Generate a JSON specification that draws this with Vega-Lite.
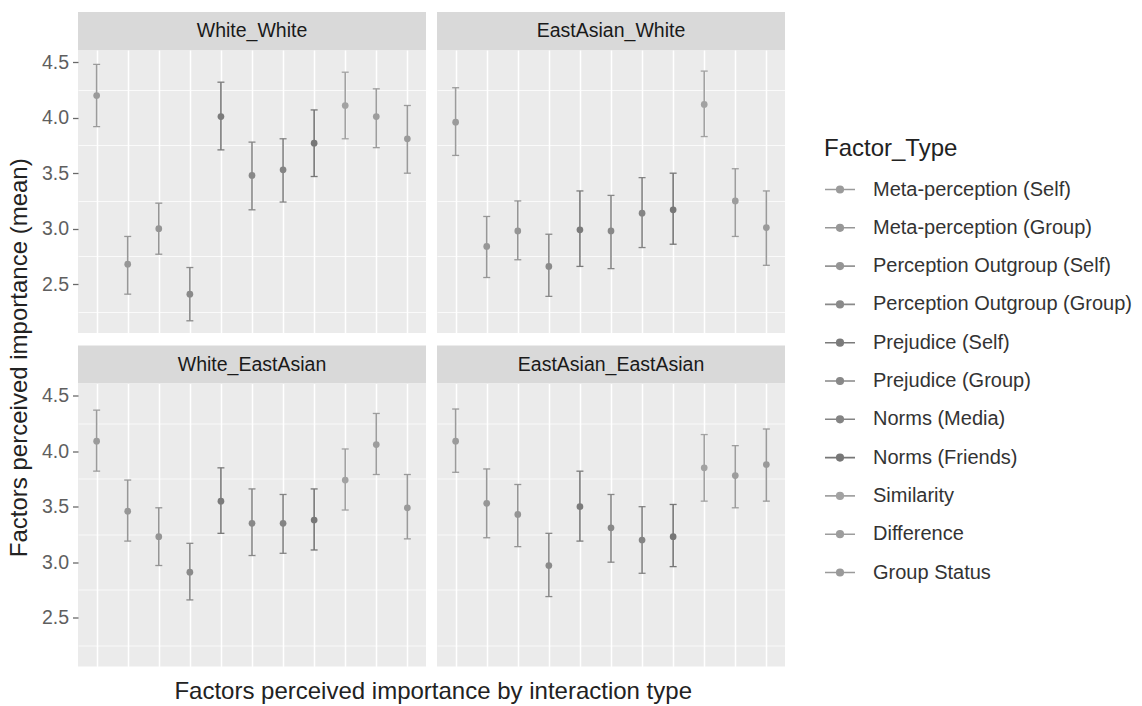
{
  "$schema": "https://vega.github.io/schema/vega-lite/v6.json",
  "padding": {"left": 8, "top": 12, "right": 5, "bottom": 5},
  "background": "white",
  "datasets": {
    "strips": [{"panel": "White_White"}, {"panel": "EastAsian_White"}, {"panel": "White_EastAsian"}, {"panel": "EastAsian_EastAsian"}],
    "means": [
      {"panel": "White_White", "factor": "Meta-perception (Self)", "mean": 4.20, "lo": 3.92, "hi": 4.48},
      {"panel": "White_White", "factor": "Meta-perception (Group)", "mean": 2.68, "lo": 2.41, "hi": 2.93},
      {"panel": "White_White", "factor": "Perception Outgroup (Self)", "mean": 3.00, "lo": 2.77, "hi": 3.23},
      {"panel": "White_White", "factor": "Perception Outgroup (Group)", "mean": 2.41, "lo": 2.17, "hi": 2.65},
      {"panel": "White_White", "factor": "Prejudice (Self)", "mean": 4.01, "lo": 3.71, "hi": 4.32},
      {"panel": "White_White", "factor": "Prejudice (Group)", "mean": 3.48, "lo": 3.17, "hi": 3.78},
      {"panel": "White_White", "factor": "Norms (Media)", "mean": 3.53, "lo": 3.24, "hi": 3.81},
      {"panel": "White_White", "factor": "Norms (Friends)", "mean": 3.77, "lo": 3.47, "hi": 4.07},
      {"panel": "White_White", "factor": "Similarity", "mean": 4.11, "lo": 3.81, "hi": 4.41},
      {"panel": "White_White", "factor": "Difference", "mean": 4.01, "lo": 3.73, "hi": 4.26},
      {"panel": "White_White", "factor": "Group Status", "mean": 3.81, "lo": 3.50, "hi": 4.11},
      {"panel": "EastAsian_White", "factor": "Meta-perception (Self)", "mean": 3.96, "lo": 3.66, "hi": 4.27},
      {"panel": "EastAsian_White", "factor": "Meta-perception (Group)", "mean": 2.84, "lo": 2.56, "hi": 3.11},
      {"panel": "EastAsian_White", "factor": "Perception Outgroup (Self)", "mean": 2.98, "lo": 2.72, "hi": 3.25},
      {"panel": "EastAsian_White", "factor": "Perception Outgroup (Group)", "mean": 2.66, "lo": 2.39, "hi": 2.95},
      {"panel": "EastAsian_White", "factor": "Prejudice (Self)", "mean": 2.99, "lo": 2.66, "hi": 3.34},
      {"panel": "EastAsian_White", "factor": "Prejudice (Group)", "mean": 2.98, "lo": 2.64, "hi": 3.30},
      {"panel": "EastAsian_White", "factor": "Norms (Media)", "mean": 3.14, "lo": 2.83, "hi": 3.46},
      {"panel": "EastAsian_White", "factor": "Norms (Friends)", "mean": 3.17, "lo": 2.86, "hi": 3.50},
      {"panel": "EastAsian_White", "factor": "Similarity", "mean": 4.12, "lo": 3.83, "hi": 4.42},
      {"panel": "EastAsian_White", "factor": "Difference", "mean": 3.25, "lo": 2.93, "hi": 3.54},
      {"panel": "EastAsian_White", "factor": "Group Status", "mean": 3.01, "lo": 2.67, "hi": 3.34},
      {"panel": "White_EastAsian", "factor": "Meta-perception (Self)", "mean": 4.09, "lo": 3.82, "hi": 4.37},
      {"panel": "White_EastAsian", "factor": "Meta-perception (Group)", "mean": 3.46, "lo": 3.19, "hi": 3.74},
      {"panel": "White_EastAsian", "factor": "Perception Outgroup (Self)", "mean": 3.23, "lo": 2.97, "hi": 3.49},
      {"panel": "White_EastAsian", "factor": "Perception Outgroup (Group)", "mean": 2.91, "lo": 2.66, "hi": 3.17},
      {"panel": "White_EastAsian", "factor": "Prejudice (Self)", "mean": 3.55, "lo": 3.26, "hi": 3.85},
      {"panel": "White_EastAsian", "factor": "Prejudice (Group)", "mean": 3.35, "lo": 3.06, "hi": 3.66},
      {"panel": "White_EastAsian", "factor": "Norms (Media)", "mean": 3.35, "lo": 3.08, "hi": 3.61},
      {"panel": "White_EastAsian", "factor": "Norms (Friends)", "mean": 3.38, "lo": 3.11, "hi": 3.66},
      {"panel": "White_EastAsian", "factor": "Similarity", "mean": 3.74, "lo": 3.47, "hi": 4.02},
      {"panel": "White_EastAsian", "factor": "Difference", "mean": 4.06, "lo": 3.79, "hi": 4.34},
      {"panel": "White_EastAsian", "factor": "Group Status", "mean": 3.49, "lo": 3.21, "hi": 3.79},
      {"panel": "EastAsian_EastAsian", "factor": "Meta-perception (Self)", "mean": 4.09, "lo": 3.81, "hi": 4.38},
      {"panel": "EastAsian_EastAsian", "factor": "Meta-perception (Group)", "mean": 3.53, "lo": 3.22, "hi": 3.84},
      {"panel": "EastAsian_EastAsian", "factor": "Perception Outgroup (Self)", "mean": 3.43, "lo": 3.14, "hi": 3.70},
      {"panel": "EastAsian_EastAsian", "factor": "Perception Outgroup (Group)", "mean": 2.97, "lo": 2.69, "hi": 3.26},
      {"panel": "EastAsian_EastAsian", "factor": "Prejudice (Self)", "mean": 3.50, "lo": 3.19, "hi": 3.82},
      {"panel": "EastAsian_EastAsian", "factor": "Prejudice (Group)", "mean": 3.31, "lo": 3.00, "hi": 3.61},
      {"panel": "EastAsian_EastAsian", "factor": "Norms (Media)", "mean": 3.20, "lo": 2.90, "hi": 3.50},
      {"panel": "EastAsian_EastAsian", "factor": "Norms (Friends)", "mean": 3.23, "lo": 2.96, "hi": 3.52},
      {"panel": "EastAsian_EastAsian", "factor": "Similarity", "mean": 3.85, "lo": 3.55, "hi": 4.15},
      {"panel": "EastAsian_EastAsian", "factor": "Difference", "mean": 3.78, "lo": 3.49, "hi": 4.05},
      {"panel": "EastAsian_EastAsian", "factor": "Group Status", "mean": 3.88, "lo": 3.55, "hi": 4.20}
    ]
  },
  "config": {
    "font": "Liberation Sans",
    "view": {"fill": "#ebebeb", "stroke": null},
    "title": {"font": "Liberation Sans", "fontSize": 24, "fontWeight": "normal", "color": "#222222"},
    "axis": {"labelFont": "Liberation Sans", "titleFont": "Liberation Sans", "gridColor": "#ffffff", "gridOpacity": 1},
    "axisX": {"labels": false, "ticks": false, "domain": false, "grid": true, "gridWidth": 1.5, "title": null},
    "axisY": {"domain": false, "tickColor": "#6a6a6a", "tickSize": 5.5, "tickWidth": 1.3, "labelFontSize": 19.5, "labelColor": "#5f5f5f", "labelPadding": 4, "labelOverlap": false, "labelFlush": false, "title": null},
    "legend": {"titleFont": "Liberation Sans", "labelFont": "Liberation Sans", "titleFontSize": 24, "titleFontWeight": "normal", "titleColor": "#222222", "labelFontSize": 20, "labelColor": "#333333", "symbolSize": 900, "symbolStrokeWidth": 1.6, "rowPadding": 12.3, "labelOffset": 17, "titlePadding": 12.5, "labelLimit": 400}
  },
  "title": {"text": "Factors perceived importance (mean)", "orient": "left", "anchor": "middle", "offset": 26, "dy": 17},
  "spacing": 12.5,
  "vconcat": [
    {
      "spacing": 11,
      "hconcat": [
        {
          "spacing": 0,
          "vconcat": [
            {"width": 348, "height": 38, "view": {"fill": "#d9d9d9", "stroke": null}, "data": {"name": "strips"}, "transform": [{"filter": "datum.panel === 'White_White'"}], "mark": {"type": "text", "fontSize": 19.5, "color": "#1a1a1a"}, "encoding": {"text": {"field": "panel", "type": "nominal"}}},
            {
              "width": 348, "height": 283,
              "data": {"name": "means"},
              "transform": [{"filter": "datum.panel === 'White_White'"}],
              "encoding": {
                "x": {"field": "factor", "type": "nominal", "scale": {"type": "point", "padding": 0.6, "domain": ["Meta-perception (Self)", "Meta-perception (Group)", "Perception Outgroup (Self)", "Perception Outgroup (Group)", "Prejudice (Self)", "Prejudice (Group)", "Norms (Media)", "Norms (Friends)", "Similarity", "Difference", "Group Status"]}, "axis": {"title": null}},
                "color": {"field": "factor", "type": "nominal", "scale": {"domain": ["Meta-perception (Self)", "Meta-perception (Group)", "Perception Outgroup (Self)", "Perception Outgroup (Group)", "Prejudice (Self)", "Prejudice (Group)", "Norms (Media)", "Norms (Friends)", "Similarity", "Difference", "Group Status"], "range": ["#9b9b9b", "#979797", "#959595", "#8a8a8a", "#7b7b7b", "#888888", "#848484", "#777777", "#a2a2a2", "#9d9d9d", "#9a9a9a"]}, "legend": {"title": "Factor_Type", "orient": "none", "legendX": 746, "legendY": 125, "symbolType": "M-1,0H1M-0.22,0A0.22,0.22,0,1,1,0.22,0A0.22,0.22,0,1,1,-0.22,0Z", "encode": {"symbols": {"update": {"fill": {"scale": "color", "field": "value"}, "stroke": {"scale": "color", "field": "value"}, "opacity": {"value": 1}}}}}}
              },
              "resolve": {"axis": {"y": "independent"}},
              "layer": [
                {"mark": {"type": "point", "opacity": 0}, "encoding": {"y": {"field": "mean", "type": "quantitative", "scale": {"domain": [2.06, 4.61], "nice": false, "zero": false}, "axis": {"orient": "left", "title": null, "values": [2.25, 2.75, 3.25, 3.75, 4.25], "labels": false, "ticks": false, "gridWidth": 0.75}}}},
                {"mark": {"type": "rule", "strokeWidth": 1.6}, "encoding": {"y": {"field": "lo", "type": "quantitative", "axis": {"orient": "left", "title": null, "values": [2.5, 3, 3.5, 4, 4.5], "format": ".1f", "gridWidth": 1.5}}, "y2": {"field": "hi"}}},
                {"mark": {"type": "tick", "size": 7, "thickness": 1.3, "opacity": 1}, "encoding": {"y": {"field": "lo", "type": "quantitative", "axis": null}}},
                {"mark": {"type": "tick", "size": 7, "thickness": 1.3, "opacity": 1}, "encoding": {"y": {"field": "hi", "type": "quantitative", "axis": null}}},
                {"mark": {"type": "point", "filled": true, "size": 45, "opacity": 1}, "encoding": {"y": {"field": "mean", "type": "quantitative", "axis": null}}}
              ]
            }
          ]
        },
        {
          "spacing": 0,
          "vconcat": [
            {"width": 348, "height": 38, "view": {"fill": "#d9d9d9", "stroke": null}, "data": {"name": "strips"}, "transform": [{"filter": "datum.panel === 'EastAsian_White'"}], "mark": {"type": "text", "fontSize": 19.5, "color": "#1a1a1a"}, "encoding": {"text": {"field": "panel", "type": "nominal"}}},
            {
              "width": 348, "height": 283,
              "data": {"name": "means"},
              "transform": [{"filter": "datum.panel === 'EastAsian_White'"}],
              "encoding": {
                "x": {"field": "factor", "type": "nominal", "scale": {"type": "point", "padding": 0.6, "domain": ["Meta-perception (Self)", "Meta-perception (Group)", "Perception Outgroup (Self)", "Perception Outgroup (Group)", "Prejudice (Self)", "Prejudice (Group)", "Norms (Media)", "Norms (Friends)", "Similarity", "Difference", "Group Status"]}, "axis": {"title": null}},
                "color": {"field": "factor", "type": "nominal", "scale": {"domain": ["Meta-perception (Self)", "Meta-perception (Group)", "Perception Outgroup (Self)", "Perception Outgroup (Group)", "Prejudice (Self)", "Prejudice (Group)", "Norms (Media)", "Norms (Friends)", "Similarity", "Difference", "Group Status"], "range": ["#9b9b9b", "#979797", "#959595", "#8a8a8a", "#7b7b7b", "#888888", "#848484", "#777777", "#a2a2a2", "#9d9d9d", "#9a9a9a"]}, "legend": {"title": "Factor_Type", "orient": "none", "legendX": 746, "legendY": 125, "symbolType": "M-1,0H1M-0.22,0A0.22,0.22,0,1,1,0.22,0A0.22,0.22,0,1,1,-0.22,0Z", "encode": {"symbols": {"update": {"fill": {"scale": "color", "field": "value"}, "stroke": {"scale": "color", "field": "value"}, "opacity": {"value": 1}}}}}}
              },
              "resolve": {"axis": {"y": "independent"}},
              "layer": [
                {"mark": {"type": "point", "opacity": 0}, "encoding": {"y": {"field": "mean", "type": "quantitative", "scale": {"domain": [2.06, 4.61], "nice": false, "zero": false}, "axis": {"orient": "left", "title": null, "values": [2.25, 2.75, 3.25, 3.75, 4.25], "labels": false, "ticks": false, "gridWidth": 0.75}}}},
                {"mark": {"type": "rule", "strokeWidth": 1.6}, "encoding": {"y": {"field": "lo", "type": "quantitative", "axis": {"orient": "left", "title": null, "values": [2.5, 3, 3.5, 4, 4.5], "labels": false, "ticks": false, "gridWidth": 1.5}}, "y2": {"field": "hi"}}},
                {"mark": {"type": "tick", "size": 7, "thickness": 1.3, "opacity": 1}, "encoding": {"y": {"field": "lo", "type": "quantitative", "axis": null}}},
                {"mark": {"type": "tick", "size": 7, "thickness": 1.3, "opacity": 1}, "encoding": {"y": {"field": "hi", "type": "quantitative", "axis": null}}},
                {"mark": {"type": "point", "filled": true, "size": 45, "opacity": 1}, "encoding": {"y": {"field": "mean", "type": "quantitative", "axis": null}}}
              ]
            }
          ]
        }
      ]
    },
    {
      "spacing": 11,
      "title": {"text": "Factors perceived importance by interaction type", "orient": "bottom", "anchor": "middle", "offset": 13, "dx": 20},
      "hconcat": [
        {
          "spacing": 0,
          "vconcat": [
            {"width": 348, "height": 38, "view": {"fill": "#d9d9d9", "stroke": null}, "data": {"name": "strips"}, "transform": [{"filter": "datum.panel === 'White_EastAsian'"}], "mark": {"type": "text", "fontSize": 19.5, "color": "#1a1a1a"}, "encoding": {"text": {"field": "panel", "type": "nominal"}}},
            {
              "width": 348, "height": 283,
              "data": {"name": "means"},
              "transform": [{"filter": "datum.panel === 'White_EastAsian'"}],
              "encoding": {
                "x": {"field": "factor", "type": "nominal", "scale": {"type": "point", "padding": 0.6, "domain": ["Meta-perception (Self)", "Meta-perception (Group)", "Perception Outgroup (Self)", "Perception Outgroup (Group)", "Prejudice (Self)", "Prejudice (Group)", "Norms (Media)", "Norms (Friends)", "Similarity", "Difference", "Group Status"]}, "axis": {"title": null}},
                "color": {"field": "factor", "type": "nominal", "scale": {"domain": ["Meta-perception (Self)", "Meta-perception (Group)", "Perception Outgroup (Self)", "Perception Outgroup (Group)", "Prejudice (Self)", "Prejudice (Group)", "Norms (Media)", "Norms (Friends)", "Similarity", "Difference", "Group Status"], "range": ["#9b9b9b", "#979797", "#959595", "#8a8a8a", "#7b7b7b", "#888888", "#848484", "#777777", "#a2a2a2", "#9d9d9d", "#9a9a9a"]}, "legend": {"title": "Factor_Type", "orient": "none", "legendX": 746, "legendY": 125, "symbolType": "M-1,0H1M-0.22,0A0.22,0.22,0,1,1,0.22,0A0.22,0.22,0,1,1,-0.22,0Z", "encode": {"symbols": {"update": {"fill": {"scale": "color", "field": "value"}, "stroke": {"scale": "color", "field": "value"}, "opacity": {"value": 1}}}}}}
              },
              "resolve": {"axis": {"y": "independent"}},
              "layer": [
                {"mark": {"type": "point", "opacity": 0}, "encoding": {"y": {"field": "mean", "type": "quantitative", "scale": {"domain": [2.06, 4.61], "nice": false, "zero": false}, "axis": {"orient": "left", "title": null, "values": [2.25, 2.75, 3.25, 3.75, 4.25], "labels": false, "ticks": false, "gridWidth": 0.75}}}},
                {"mark": {"type": "rule", "strokeWidth": 1.6}, "encoding": {"y": {"field": "lo", "type": "quantitative", "axis": {"orient": "left", "title": null, "values": [2.5, 3, 3.5, 4, 4.5], "format": ".1f", "gridWidth": 1.5}}, "y2": {"field": "hi"}}},
                {"mark": {"type": "tick", "size": 7, "thickness": 1.3, "opacity": 1}, "encoding": {"y": {"field": "lo", "type": "quantitative", "axis": null}}},
                {"mark": {"type": "tick", "size": 7, "thickness": 1.3, "opacity": 1}, "encoding": {"y": {"field": "hi", "type": "quantitative", "axis": null}}},
                {"mark": {"type": "point", "filled": true, "size": 45, "opacity": 1}, "encoding": {"y": {"field": "mean", "type": "quantitative", "axis": null}}}
              ]
            }
          ]
        },
        {
          "spacing": 0,
          "vconcat": [
            {"width": 348, "height": 38, "view": {"fill": "#d9d9d9", "stroke": null}, "data": {"name": "strips"}, "transform": [{"filter": "datum.panel === 'EastAsian_EastAsian'"}], "mark": {"type": "text", "fontSize": 19.5, "color": "#1a1a1a"}, "encoding": {"text": {"field": "panel", "type": "nominal"}}},
            {
              "width": 348, "height": 283,
              "data": {"name": "means"},
              "transform": [{"filter": "datum.panel === 'EastAsian_EastAsian'"}],
              "encoding": {
                "x": {"field": "factor", "type": "nominal", "scale": {"type": "point", "padding": 0.6, "domain": ["Meta-perception (Self)", "Meta-perception (Group)", "Perception Outgroup (Self)", "Perception Outgroup (Group)", "Prejudice (Self)", "Prejudice (Group)", "Norms (Media)", "Norms (Friends)", "Similarity", "Difference", "Group Status"]}, "axis": {"title": null}},
                "color": {"field": "factor", "type": "nominal", "scale": {"domain": ["Meta-perception (Self)", "Meta-perception (Group)", "Perception Outgroup (Self)", "Perception Outgroup (Group)", "Prejudice (Self)", "Prejudice (Group)", "Norms (Media)", "Norms (Friends)", "Similarity", "Difference", "Group Status"], "range": ["#9b9b9b", "#979797", "#959595", "#8a8a8a", "#7b7b7b", "#888888", "#848484", "#777777", "#a2a2a2", "#9d9d9d", "#9a9a9a"]}, "legend": {"title": "Factor_Type", "orient": "none", "legendX": 746, "legendY": 125, "symbolType": "M-1,0H1M-0.22,0A0.22,0.22,0,1,1,0.22,0A0.22,0.22,0,1,1,-0.22,0Z", "encode": {"symbols": {"update": {"fill": {"scale": "color", "field": "value"}, "stroke": {"scale": "color", "field": "value"}, "opacity": {"value": 1}}}}}}
              },
              "resolve": {"axis": {"y": "independent"}},
              "layer": [
                {"mark": {"type": "point", "opacity": 0}, "encoding": {"y": {"field": "mean", "type": "quantitative", "scale": {"domain": [2.06, 4.61], "nice": false, "zero": false}, "axis": {"orient": "left", "title": null, "values": [2.25, 2.75, 3.25, 3.75, 4.25], "labels": false, "ticks": false, "gridWidth": 0.75}}}},
                {"mark": {"type": "rule", "strokeWidth": 1.6}, "encoding": {"y": {"field": "lo", "type": "quantitative", "axis": {"orient": "left", "title": null, "values": [2.5, 3, 3.5, 4, 4.5], "labels": false, "ticks": false, "gridWidth": 1.5}}, "y2": {"field": "hi"}}},
                {"mark": {"type": "tick", "size": 7, "thickness": 1.3, "opacity": 1}, "encoding": {"y": {"field": "lo", "type": "quantitative", "axis": null}}},
                {"mark": {"type": "tick", "size": 7, "thickness": 1.3, "opacity": 1}, "encoding": {"y": {"field": "hi", "type": "quantitative", "axis": null}}},
                {"mark": {"type": "point", "filled": true, "size": 45, "opacity": 1}, "encoding": {"y": {"field": "mean", "type": "quantitative", "axis": null}}}
              ]
            }
          ]
        }
      ]
    }
  ]
}
